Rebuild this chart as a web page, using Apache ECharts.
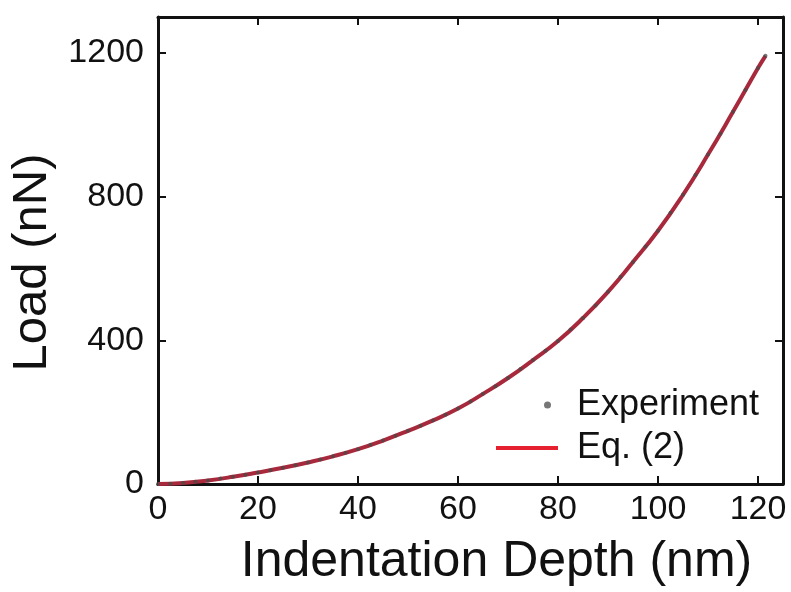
<!DOCTYPE html>
<html>
<head>
    <meta charset="utf-8"/>
    <title>Load vs Indentation Depth</title>
    <script src="https://cdn.jsdelivr.net/npm/echarts@6/dist/echarts.min.js"></script>
</head>
<body style="margin:0;background:#fff;">
<div id="main" style="width: 791px;height:592px;"></div>
<script type="text/javascript">
    var expDepth = [0, 2.5, 5, 7.5, 10, 12.5, 15, 17.5, 20, 22.5, 25, 27.5, 30, 32.5, 35, 37.5,
        40, 42.5, 45, 47.5, 50, 52.5, 55, 57.5, 60, 62.5, 65, 67.5, 70, 72.5, 75, 77.5,
        80, 82.5, 85, 87.5, 90, 92.5, 95, 97.5, 100, 102.5, 105, 107.5, 110, 112.5, 115, 117.5, 120, 121.5];
    var expLoad = [0, 1, 3, 6, 10, 15, 20, 26, 32, 38, 45, 52, 60, 68, 77, 87,
        97, 109, 121, 134, 148, 162, 177, 193, 210, 230, 251, 272, 295, 320, 345, 371,
        398, 430, 462, 497, 535, 576, 618, 661, 705, 755, 805, 860, 917, 975, 1036, 1097, 1158, 1192];
    // Eq. (2) fit curve
    var fitDepth = [0, 5, 10, 15, 20, 25, 30, 35, 40, 45, 50, 55, 60, 65, 70, 75, 80, 85, 90, 95, 100, 105, 110, 115, 120, 121.5];
    var fitLoad = [0, 3, 10, 20, 32, 45, 60, 77, 97, 121, 148, 177, 210, 251, 295, 345, 398, 462, 535, 618, 705, 805, 917, 1036, 1158, 1192];

    var xTicks = ['0', '20', '40', '60', '80', '100', '120'];
    var yTicks = ['0', '400', '800', '1200'];

    function pairs(xs, ys) {
        var out = [];
        for (var i = 0; i < xs.length; i++) out.push([xs[i], ys[i]]);
        return out;
    }

    var font = '"Liberation Sans", Arial, sans-serif';
    var axisLine = {onZero: false, lineStyle: {color: '#111', width: 3}};
    var tick = {inside: true, length: 8, lineStyle: {color: '#111', width: 2}};

    var myChart = echarts.init(document.getElementById('main'));
    myChart.setOption({
        backgroundColor: '#fff',
        animation: false,
        grid: {left: 158, right: 8, top: 17, bottom: 103},
        legend: [{
            data: ['Experiment'],
            left: 544, top: 387, padding: 0,
            itemWidth: 7, itemHeight: 7, itemGap: 0,
            textStyle: {fontFamily: font, fontSize: 36, color: '#111', padding: [0, 0, 0, 21]}
        }, {
            data: [{name: 'Eq. (2)', icon: 'rect', itemStyle: {color: '#e5202f'}}],
            left: 496, top: 430, padding: 0,
            itemWidth: 62, itemHeight: 4,
            textStyle: {fontFamily: font, fontSize: 36, color: '#111', padding: [0, 0, 0, 14]}
        }],
        xAxis: [{
            type: 'value', min: 0, max: 125, interval: 20,
            name: 'Indentation Depth (nm)', nameLocation: 'middle', nameGap: 53,
            nameTextStyle: {fontFamily: font, fontSize: 50, color: '#111', padding: [0, 0, 0, 52]},
            axisLine: axisLine, axisTick: tick, splitLine: {show: false},
            axisLabel: {
                fontFamily: font, fontSize: 34, color: '#111', margin: 9, showMaxLabel: false,
                formatter: function (v) { return xTicks.indexOf(String(v)) >= 0 ? String(v) : ''; }
            }
        }, {
            type: 'value', position: 'top', min: 0, max: 125, interval: 20,
            axisLine: axisLine, axisTick: tick, axisLabel: {show: false}, splitLine: {show: false}
        }],
        yAxis: [{
            type: 'value', min: 0, max: 1300, interval: 400,
            name: 'Load (nN)', nameLocation: 'middle', nameGap: 100, nameRotate: 90,
            nameTextStyle: {fontFamily: font, fontSize: 49, color: '#111', padding: [0, 24, 0, 0]},
            axisLine: axisLine, axisTick: tick, splitLine: {show: false},
            axisLabel: {
                fontFamily: font, fontSize: 34, color: '#111', margin: 14, showMaxLabel: false,
                formatter: function (v) { return yTicks.indexOf(String(v)) >= 0 ? String(v) : ''; }
            }
        }, {
            type: 'value', position: 'right', min: 0, max: 1300, interval: 400,
            axisLine: axisLine, axisTick: tick, axisLabel: {show: false}, splitLine: {show: false}
        }],
        series: [{
            name: 'Eq. (2)',
            type: 'line',
            smooth: true,
            showSymbol: false,
            symbol: 'none',
            data: pairs(fitDepth, fitLoad),
            lineStyle: {color: '#a8283c', width: 4},
            itemStyle: {color: '#e5202f'},
            z: 2
        }, {
            name: 'Experiment',
            type: 'scatter',
            symbol: 'circle',
            symbolSize: 4,
            data: pairs(expDepth, expLoad),
            itemStyle: {color: '#4a4a4a', opacity: 0.75},
            z: 3
        }]
    });
</script>
</body>
</html>
